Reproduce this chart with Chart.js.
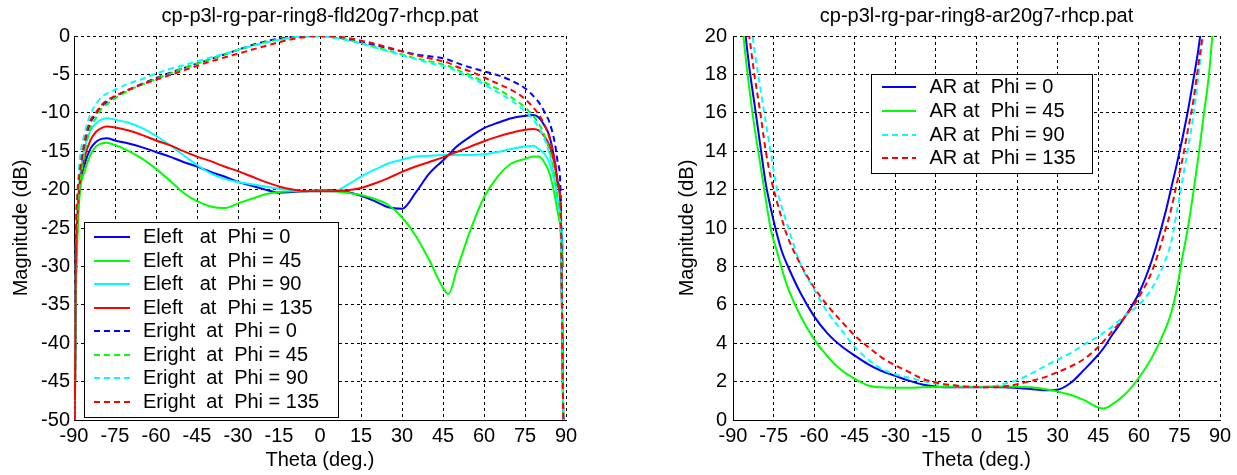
<!DOCTYPE html>
<html><head><meta charset="utf-8">
<script src="https://cdn.jsdelivr.net/npm/chart.js@4.4.1/dist/chart.umd.min.js"></script>
<style>
html,body{margin:0;padding:0;background:#fff;overflow:hidden;width:1237px;height:475px;}
#wrap{position:relative;width:1237px;height:475px;overflow:hidden;background:#fff;}
canvas{position:absolute;top:0;}
#c1{left:0;}
#c2{left:640px;}
</style></head><body>
<div id="wrap"><canvas id="c1" width="640" height="475"></canvas><canvas id="c2" width="673" height="475"></canvas></div>
<script>
// ---------- left chart data (field patterns, dB) ----------
const thetaL = [-89.7, -89.3, -88.8, -88, -86, -84, -82, -80, -78, -75, -70, -65, -60, -55, -50, -45, -40, -35, -30, -25, -20, -15, -10, -5, 0, 5, 10, 15, 20, 25, 30, 35, 40, 45, 47, 50, 55, 60, 65, 70, 75, 78, 80, 82, 84, 86, 87, 88, 89];
const eLeft0 = [-50, -32, -25, -20.1, -16.6, -14.7, -13.8, -13.4, -13.3, -13.6, -14.0, -14.5, -15.1, -15.7, -16.4, -17.0, -17.7, -18.3, -19.0, -19.5, -20.0, -20.4, -20.3, -20.2, -20.1, -20.1, -20.3, -20.8, -21.5, -22.3, -22.5, -20.4, -17.9, -16.2, -15.5, -14.4, -13.1, -12.0, -11.3, -10.7, -10.4, -10.3, -10.6, -11.6, -13.1, -16.6, -19.0, -21.8, -50];
const eLeft45 = [-50, -34, -27, -21, -17.5, -15.5, -14.4, -14.0, -13.9, -14.2, -15.0, -16.0, -17.3, -18.8, -20.4, -21.5, -22.2, -22.4, -21.8, -21.2, -20.6, -20.3, -20.2, -20.2, -20.1, -20.2, -20.4, -20.7, -21.2, -22.0, -23.6, -26.0, -29.2, -32.8, -33.6, -30.5, -25.3, -21.0, -18.3, -16.6, -16.0, -15.7, -15.7, -16.4, -17.9, -21.0, -23.0, -25.0, -30.0];
const eLeft90 = [-50, -28, -23, -18.8, -14.4, -12.3, -11.4, -10.9, -10.7, -10.9, -11.3, -12.0, -13.0, -14.2, -15.5, -16.8, -17.9, -18.6, -19.0, -19.3, -19.6, -19.9, -20.1, -20.2, -20.2, -20.2, -19.4, -18.3, -17.4, -16.6, -16.1, -15.7, -15.6, -15.5, -15.5, -15.5, -15.5, -15.4, -15.1, -14.7, -14.4, -14.3, -14.7, -15.3, -16.6, -19.2, -21.5, -23.6, -27.8];
const eLeft135 = [-50, -30, -24, -19.7, -15.7, -13.6, -12.5, -12.0, -11.8, -11.9, -12.3, -12.9, -13.6, -14.2, -15.0, -15.7, -16.3, -17.0, -17.6, -18.3, -19.0, -19.6, -20.0, -20.2, -20.2, -20.2, -20.1, -19.8, -19.2, -18.5, -17.7, -17.0, -16.4, -15.8, -15.5, -15.1, -14.4, -13.7, -13.1, -12.6, -12.2, -12.1, -12.3, -13.0, -14.3, -17.0, -19.5, -22.0, -50];
const eRight0 = [-50, -28, -22, -19, -14, -11.3, -10.2, -9.2, -8.6, -7.9, -7.0, -6.2, -5.5, -4.8, -4.2, -3.6, -3.0, -2.4, -1.8, -1.2, -0.7, -0.35, -0.1, 0, 0, -0.1, -0.4, -0.8, -1.2, -1.6, -2.0, -2.4, -2.65, -2.9, -3.1, -3.5, -4.1, -4.6, -5.1, -5.8, -6.8, -7.8, -8.6, -9.8, -11.3, -14.1, -16.5, -20, -50];
const eRight45 = [-50, -30, -24, -20, -15, -12, -10.7, -9.5, -8.9, -8.1, -7.1, -6.3, -5.6, -4.9, -4.2, -3.6, -3.0, -2.4, -1.8, -1.3, -0.8, -0.45, -0.15, -0.05, -0.05, -0.2, -0.5, -0.9, -1.4, -1.9, -2.4, -2.9, -3.3, -3.7, -3.9, -4.4, -5.1, -6.0, -6.9, -8.0, -9.3, -10.4, -11.4, -12.8, -15.0, -18.5, -21, -24, -50];
const eRight90 = [-50, -26, -21, -16.5, -12.5, -10.2, -8.9, -8.0, -7.5, -7.0, -6.2, -5.6, -4.9, -4.3, -3.8, -3.3, -2.8, -2.3, -1.8, -1.3, -0.9, -0.5, -0.2, -0.05, 0, -0.25, -0.55, -1.0, -1.5, -2.0, -2.5, -3.0, -3.5, -3.9, -4.1, -4.6, -5.4, -6.3, -7.3, -8.4, -9.8, -10.9, -11.9, -13.3, -15.5, -19, -21.5, -25, -50];
const eRight135 = [-50, -27, -21, -18, -13.5, -11.0, -10.0, -9.0, -8.4, -7.8, -7.0, -6.3, -5.7, -5.1, -4.5, -3.9, -3.3, -2.8, -2.3, -1.8, -1.3, -0.8, -0.4, -0.1, 0, -0.05, -0.25, -0.6, -1.0, -1.5, -2.0, -2.5, -2.9, -3.3, -3.5, -4.0, -4.6, -5.4, -6.2, -7.0, -8.2, -9.3, -10.2, -11.5, -13.3, -16.5, -19, -22, -50];
const labelsL = ['Eleft   at  Phi = 0', 'Eleft   at  Phi = 45', 'Eleft   at  Phi = 90', 'Eleft   at  Phi = 135',
                 'Eright  at  Phi = 0', 'Eright  at  Phi = 45', 'Eright  at  Phi = 90', 'Eright  at  Phi = 135'];

// ---------- right chart data (axial ratio, dB) ----------
const thetaR = [-90, -88, -86, -84, -82, -80, -78, -76, -74, -72, -70, -65, -60, -55, -50, -45, -40, -35, -30, -25, -20, -15, -10, -5, 0, 5, 10, 15, 20, 25, 30, 35, 40, 45, 47, 50, 55, 60, 65, 70, 72, 74, 76, 78, 80, 82, 84, 86, 88, 90];
const arPhi0 = [30, 25, 21, 18.4, 16.4, 14.4, 12.4, 11.0, 9.8, 8.8, 8.1, 6.6, 5.4, 4.5, 3.85, 3.35, 2.9, 2.55, 2.3, 2.05, 1.85, 1.75, 1.7, 1.7, 1.7, 1.72, 1.7, 1.67, 1.62, 1.55, 1.58, 1.95, 2.65, 3.4, 3.75, 4.4, 5.4, 6.6, 8.4, 10.9, 12.1, 13.3, 14.6, 16.0, 17.6, 19.3, 21.5, 24, 27, 30];
const arPhi45 = [30, 23, 19.8, 17.3, 15.2, 13.4, 11.6, 9.9, 8.9, 7.9, 7.0, 5.4, 4.2, 3.3, 2.6, 2.15, 1.8, 1.7, 1.68, 1.68, 1.7, 1.72, 1.73, 1.73, 1.73, 1.74, 1.74, 1.73, 1.7, 1.62, 1.48, 1.3, 1.02, 0.65, 0.6, 0.8, 1.35, 2.2, 3.3, 4.8, 5.6, 6.8, 8.4, 9.9, 11.7, 13.7, 15.9, 18.1, 21.5, 25];
const arPhi90 = [35, 28, 24, 21.5, 19.2, 17.4, 15.6, 13.9, 12.2, 11.1, 10.2, 8.1, 6.8, 5.6, 4.7, 3.8, 3.15, 2.65, 2.38, 2.2, 2.04, 1.9, 1.82, 1.76, 1.72, 1.74, 1.88, 2.08, 2.4, 2.78, 3.15, 3.5, 3.95, 4.35, 4.55, 4.85, 5.45, 6.0, 6.9, 8.4, 9.3, 10.8, 12.4, 14.0, 15.7, 17.9, 20.4, 24, 28, 32];
const arPhi135 = [30, 25, 22, 20, 17.9, 16.1, 14.1, 12.6, 11.5, 10.5, 9.6, 8.1, 6.9, 5.95, 5.15, 4.4, 3.8, 3.25, 2.85, 2.5, 2.15, 1.95, 1.83, 1.75, 1.72, 1.7, 1.75, 1.86, 2.03, 2.22, 2.5, 2.8, 3.2, 3.8, 4.1, 4.6, 5.4, 6.4, 7.8, 10.0, 11.0, 12.3, 13.5, 15.0, 16.5, 18.5, 20.5, 23, 26, 30];
const labelsR = ['AR at  Phi = 0', 'AR at  Phi = 45', 'AR at  Phi = 90', 'AR at  Phi = 135'];

// ---------- styling ----------
const FONT = 'Arial, "Liberation Sans", Helvetica, sans-serif';
Chart.defaults.font.family = FONT;
Chart.defaults.font.size = 20;
Chart.defaults.color = '#000';
const COLORS = ['#0000ff', '#00ff00', '#00ffff', '#ff0000'];
const DASH = [6, 4];

function pts(theta, vals) { return theta.map((t, i) => ({ x: t, y: vals[i] })); }
function ds(label, theta, vals, color, dashed, idx) {
  return {
    label, data: pts(theta, vals), borderColor: color, backgroundColor: color,
    borderWidth: 2, borderDash: dashed ? DASH : [], pointRadius: 0, fill: false,
    cubicInterpolationMode: 'monotone', clip: 0, order: 20 - idx
  };
}

const boxLegend = {
  id: 'boxLegend',
  afterDatasetsDraw(chart, args, o) {
    if (!o || o.w === undefined) return;
    const ctx = chart.ctx;
    ctx.save();
    ctx.fillStyle = '#fff';
    ctx.fillRect(o.x, o.y, o.w, o.h);
    ctx.strokeStyle = '#000';
    ctx.lineWidth = 1;
    ctx.setLineDash([]);
    ctx.strokeRect(o.x + 0.5, o.y + 0.5, o.w, o.h);
    ctx.font = '20px ' + FONT;
    ctx.textBaseline = 'middle';
    ctx.textAlign = 'left';
    chart.data.datasets.forEach((d, i) => {
      const yy = Math.round(o.row0 + i * o.step);
      ctx.save();
      ctx.strokeStyle = d.borderColor;
      ctx.lineWidth = d.borderWidth;
      ctx.setLineDash(d.borderDash || []);
      ctx.beginPath();
      ctx.moveTo(o.lx0, yy);
      ctx.lineTo(o.lx1, yy);
      ctx.stroke();
      ctx.restore();
      ctx.fillStyle = '#000';
      ctx.fillText(d.label, o.tx, yy);
    });
    ctx.restore();
  }
};

function makeOptions(cfg) {
  return {
    responsive: false, animation: false, devicePixelRatio: 1,
    layout: { padding: 0 },
    plugins: {
      legend: { display: false }, tooltip: { enabled: false },
      title: { display: true, text: cfg.title, color: '#000', font: { size: 20, weight: 'normal' }, padding: { top: 4, bottom: 8 } },
      boxLegend: cfg.legend
    },
    scales: {
      x: {
        type: 'linear', min: -90, max: 90,
        ticks: { stepSize: 15, autoSkip: false, maxRotation: 0, padding: 4, color: '#000', font: { size: 20 } },
        grid: { color: '#000', lineWidth: 1, drawTicks: false },
        border: { display: true, color: '#000', width: 1, dash: [3, 3] },
        title: { display: true, text: 'Theta (deg.)', color: '#000', font: { size: 20 }, padding: { top: 0, bottom: 3 } },
        afterFit(s) { s.height = 55; }
      },
      y: {
        type: 'linear', position: 'left', min: cfg.ymin, max: cfg.ymax,
        ticks: { stepSize: cfg.ystep, padding: cfg.ypad, color: '#000', font: { size: 20 } },
        grid: { color: '#000', lineWidth: 1, drawTicks: false },
        border: { display: true, color: '#000', width: 1, dash: [3, 3] },
        title: { display: true, text: 'Magnitude (dB)', color: '#000', font: { size: 20 }, padding: { top: cfg.ytitlePad, bottom: 0 } },
        afterFit(s) { s.width = cfg.side; }
      },
      yPad: {
        type: 'linear', position: 'right', display: true,
        ticks: { display: false }, grid: { display: false }, border: { display: false },
        afterFit(s) { s.width = cfg.side; }
      }
    }
  };
}

// left chart
new Chart(document.getElementById('c1'), {
  type: 'line',
  data: {
    datasets: [
      ds(labelsL[0], thetaL, eLeft0, COLORS[0], false, 0),
      ds(labelsL[1], thetaL, eLeft45, COLORS[1], false, 1),
      ds(labelsL[2], thetaL, eLeft90, COLORS[2], false, 2),
      ds(labelsL[3], thetaL, eLeft135, COLORS[3], false, 3),
      ds(labelsL[4], thetaL, eRight0, COLORS[0], true, 4),
      ds(labelsL[5], thetaL, eRight45, COLORS[1], true, 5),
      ds(labelsL[6], thetaL, eRight90, COLORS[2], true, 6),
      ds(labelsL[7], thetaL, eRight135, COLORS[3], true, 7)
    ]
  },
  options: makeOptions({
    title: 'cp-p3l-rg-par-ring8-fld20g7-rhcp.pat', ymin: -50, ymax: 0, ystep: 5, ypad: 4, ytitlePad: 9, side: 74,
    legend: { x: 84, y: 222, w: 254, h: 195, row0: 237, step: 23.5, lx0: 94, lx1: 130, tx: 143 }
  }),
  plugins: [boxLegend]
});

// right chart
new Chart(document.getElementById('c2'), {
  type: 'line',
  data: {
    datasets: [
      ds(labelsR[0], thetaR, arPhi0, COLORS[0], false, 0),
      ds(labelsR[1], thetaR, arPhi45, COLORS[1], false, 1),
      ds(labelsR[2], thetaR, arPhi90, COLORS[2], true, 2),
      ds(labelsR[3], thetaR, arPhi135, COLORS[3], true, 3)
    ]
  },
  options: makeOptions({
    title: 'cp-p3l-rg-par-ring8-ar20g7-rhcp.pat', ymin: 0, ymax: 20, ystep: 2, ypad: 6, ytitlePad: 35, side: 93,
    legend: { x: 231, y: 74, w: 221, h: 99, row0: 87.3, step: 23.7, lx0: 242, lx1: 276, tx: 289.5 }
  }),
  plugins: [boxLegend]
});
</script>
</body></html>
